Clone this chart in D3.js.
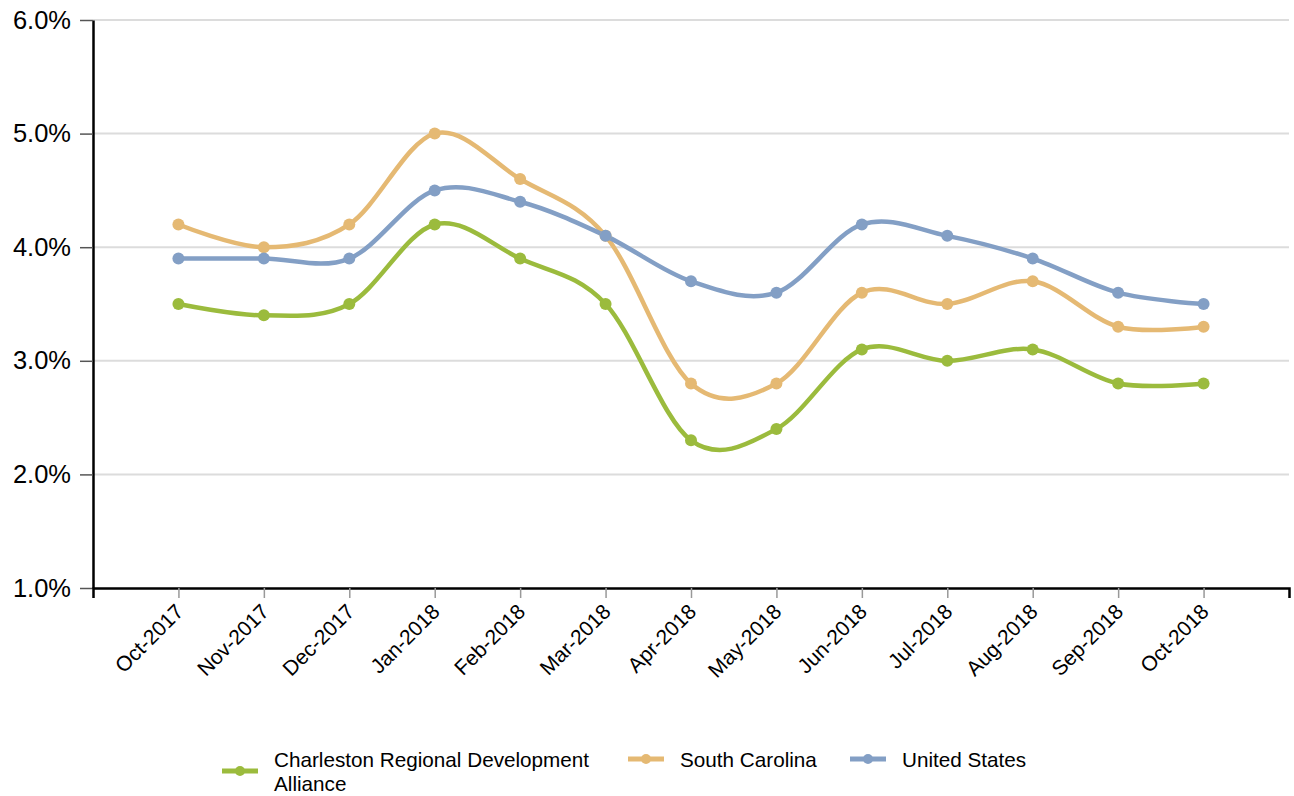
<!DOCTYPE html>
<html>
<head>
<meta charset="utf-8">
<script src="https://cdn.jsdelivr.net/npm/d3@7"></script>
<style>
    body { margin: 0; background: #fff; }
    svg { display: block; font-family: "Liberation Sans", Arial, sans-serif; }
</style>
</head>
<body>
<div id="chart"></div>
<script>
"use strict";
const WIDTH = 1294;
const HEIGHT = 796;
const LEFT = 93;
const RIGHT = 1289;
const TOP = 20;
const BOTTOM = 588;

const months = ["Oct-2017", "Nov-2017", "Dec-2017", "Jan-2018", "Feb-2018", "Mar-2018", "Apr-2018",
    "May-2018", "Jun-2018", "Jul-2018", "Aug-2018", "Sep-2018", "Oct-2018"];
const charleston = [3.5, 3.4, 3.5, 4.2, 3.9, 3.5, 2.3, 2.4, 3.1, 3.0, 3.1, 2.8, 2.8];
const southCarolina = [4.2, 4.0, 4.2, 5.0, 4.6, 4.1, 2.8, 2.8, 3.6, 3.5, 3.7, 3.3, 3.3];
const unitedStates = [3.9, 3.9, 3.9, 4.5, 4.4, 4.1, 3.7, 3.6, 4.2, 4.1, 3.9, 3.6, 3.5];
const yTicks = [1, 2, 3, 4, 5, 6];

const series = [
    {name: ["Charleston Regional Development", "Alliance"], values: charleston, color: "#9bbb3d", legendX: 222},
    {name: ["South Carolina"], values: southCarolina, color: "#e5b973", legendX: 628},
    {name: ["United States"], values: unitedStates, color: "#839fc5", legendX: 850}
];

const svg = d3.select("#chart").append("svg")
    .attr("width", WIDTH)
    .attr("height", HEIGHT);

const x = d3.scalePoint()
    .domain(months)
    .range([LEFT, RIGHT])
    .padding(1);

const y = d3.scaleLinear()
    .domain([1, 6])
    .range([BOTTOM, TOP]);

// gridlines
svg.append("g")
    .selectAll("line")
    .data(yTicks.slice(1))
    .enter()
    .append("line")
    .attr("x1", LEFT)
    .attr("x2", RIGHT)
    .attr("y1", d => y(d))
    .attr("y2", d => y(d))
    .style("stroke", "#dcdcdc")
    .style("stroke-width", 2);

// y axis
const yAxis = svg.append("g")
    .attr("transform", "translate(" + LEFT + ",0)")
    .call(d3.axisLeft(y).tickValues(yTicks).tickSize(13).tickSizeOuter(0).tickPadding(9)
        .tickFormat(d => d.toFixed(1) + "%"));
yAxis.select(".domain").style("stroke", "#000").style("stroke-width", 2.5);
yAxis.selectAll(".tick line").style("stroke", "#555").style("stroke-width", 1.5);
yAxis.selectAll("text").style("font-size", "25.5px").style("fill", "#000");

// x axis
const xAxis = svg.append("g")
    .attr("transform", "translate(0," + BOTTOM + ")")
    .call(d3.axisBottom(x).tickSize(10).tickSizeOuter(10).tickPadding(8));
xAxis.select(".domain").style("stroke", "#000").style("stroke-width", 2.5);
xAxis.selectAll(".tick line").style("stroke", "#999").style("stroke-width", 1.5);
xAxis.selectAll("text")
    .style("font-size", "21px")
    .style("fill", "#000")
    .attr("text-anchor", "end")
    .attr("dy", "0.35em")
    .attr("transform", "translate(-12,7) rotate(-45)");

// lines
const line = d3.line()
    .x((d, i) => x(months[i]))
    .y(d => y(d))
    .curve(d3.curveCardinal.tension(0));

const lines = svg.append("g");
series.forEach(function (s) {
    lines.append("path")
        .datum(s.values)
        .attr("d", line)
        .style("fill", "none")
        .style("stroke", s.color)
        .style("stroke-width", 4.5);
});
series.forEach(function (s) {
    lines.append("g")
        .selectAll("circle")
        .data(s.values)
        .enter()
        .append("circle")
        .attr("cx", (d, i) => x(months[i]))
        .attr("cy", d => y(d))
        .attr("r", 6)
        .style("fill", s.color);
});

// legend
const legend = svg.append("g");
series.forEach(function (s) {
    const g = legend.append("g");
    const cy = s.name.length > 1 ? 771 : 759;
    g.append("line")
        .attr("x1", s.legendX)
        .attr("x2", s.legendX + 36)
        .attr("y1", cy)
        .attr("y2", cy)
        .style("stroke", s.color)
        .style("stroke-width", 5);
    g.append("circle")
        .attr("cx", s.legendX + 18)
        .attr("cy", cy)
        .attr("r", 5)
        .style("fill", s.color);
    const text = g.append("text")
        .attr("x", s.legendX + 52)
        .attr("y", 767)
        .style("font-size", "20.7px")
        .style("fill", "#000");
    s.name.forEach(function (part, i) {
        text.append("tspan")
            .attr("x", s.legendX + 52)
            .attr("dy", i === 0 ? 0 : 24)
            .text(part);
    });
});
</script>
</body>
</html>
